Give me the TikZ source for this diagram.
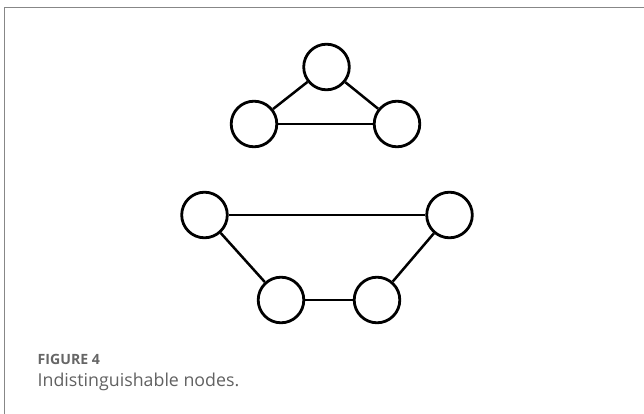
\documentclass[tikz,border=0pt]{standalone}
\usepackage{graphicx}
\usepackage{fontspec}
\setmainfont{Open Sans}
\begin{document}
\begin{tikzpicture}[x=1pt,y=-1pt,
  vertex/.style={circle,draw=black,line width=2.8pt,minimum size=45.6pt,inner sep=0pt},
  edge/.style={draw=black,line width=2.5pt},
  frame/.style={draw=black!47,line width=1.3pt},
  caphead/.style={anchor=base west,inner sep=0pt,text=black!60,font=\fontsize{14.5}{17}\selectfont\bfseries},
  captext/.style={anchor=base west,inner sep=0pt,text=black!62,font=\fontsize{18}{21}\selectfont}]
  \useasboundingbox (0,0) rectangle (644,414);
  % panel frame: top and left rules only
  \coordinate (fl) at (4.3,414);
  \coordinate (ftl) at (4.3,7.3);
  \coordinate (fr) at (644,7.3);
  \draw[frame] (fl) -- (ftl) -- (fr);
  % triangle
  \node[vertex] (t) at (326.5,67) {};
  \node[vertex] (l) at (254,124) {};
  \node[vertex] (r) at (397,124) {};
  \draw[edge] (t) -- (l);
  \draw[edge] (t) -- (r);
  \draw[edge] (l) -- (r);
  % four-cycle
  \node[vertex] (a) at (204.5,215) {};
  \node[vertex] (b) at (449.5,215) {};
  \node[vertex] (c) at (281,300) {};
  \node[vertex] (d) at (377,300) {};
  \draw[edge] (a) -- (b);
  \draw[edge] (a) -- (c);
  \draw[edge] (c) -- (d);
  \draw[edge] (d) -- (b);
  % caption, each line set to its column width
  \node[caphead] (fig) at (37.5,364.3) {\resizebox{62.3pt}{!}{FIGURE 4}};
  \node[captext] (cap) at (37.5,386.7) {\resizebox{201.6pt}{!}{Indistinguishable nodes.}};
\end{tikzpicture}
\end{document}
